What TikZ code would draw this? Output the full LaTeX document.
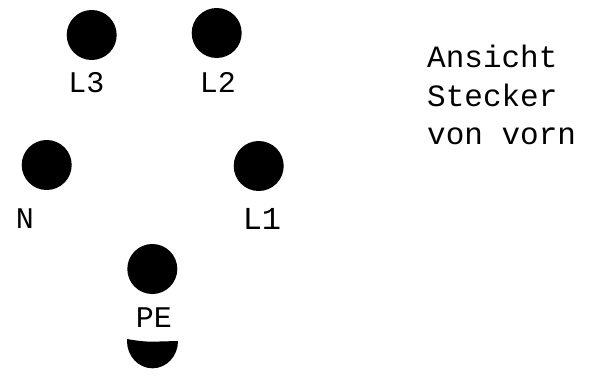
\documentclass[tikz,border=0pt]{standalone}
\usepackage{fontspec}
\setmainfont{Liberation Mono}
\tikzset{pin/.style={circle,fill=black,inner sep=0pt,minimum size=50pt},
lab/.style={inner sep=0pt,font=\fontsize{30}{32}\selectfont,anchor=base},
txt/.style={inner sep=0pt,font=\fontsize{31}{32}\selectfont,anchor=base west}}
\begin{document}
\begin{tikzpicture}[x=1pt,y=-1pt]
\useasboundingbox (0,0) rectangle (590,378);
\node[pin] (a) at (91.7,35) {};
\node[pin] (b) at (216.7,33) {};
\node[pin] (c) at (46.7,165) {};
\node[pin] (d) at (258.7,166) {};
\node[pin] (e) at (152.3,269) {};
\node[lab] (l3) at (86.5,92) {L3};
\node[lab] (l2) at (218,92) {L2};
\node[lab] (ln) at (25,228.5) {N};
\node[lab,font=\fontsize{32}{32}\selectfont] (l1) at (262,229) {L1};
\node[lab] (pe) at (154,327.5) {PE};
\fill (127,339) .. controls (135,340.5) and (145,341.7) .. (152,341.7) -- (178,341) arc[start angle=0,end angle=180,x radius=25.5,y radius=27.3] -- cycle;
\node[txt] (t1) at (427,67.5) {Ansicht};
\node[txt] (t2) at (427,106.5) {Stecker};
\node[txt] (t3) at (427,144) {von vorn};
\end{tikzpicture}
\end{document}
